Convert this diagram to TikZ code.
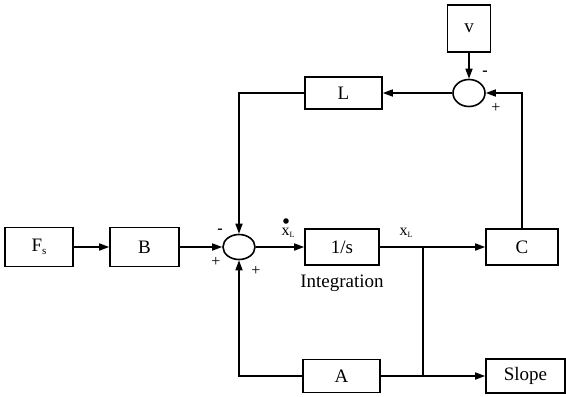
\documentclass[tikz,border=0pt]{standalone}
\usepackage{fontspec}
\setmainfont{Liberation Serif}
\usetikzlibrary{arrows.meta,shapes.geometric}
\begin{document}
\begin{tikzpicture}[x=1pt,y=-1pt, line width=1.6pt,
  >={Triangle[length=10pt,width=7pt]},
  blk/.style={draw, rectangle, inner sep=0pt, font=\fontsize{19}{22}\selectfont},
  sumj/.style={draw, ellipse, inner sep=0pt, minimum width=32pt, minimum height=25pt},
  sgn/.style={inner sep=0pt, font=\fontsize{16}{18}\selectfont},
  lbl/.style={inner sep=0pt, font=\fontsize{16}{18}\selectfont}]
\useasboundingbox (0,0) rectangle (566,397);
% blocks
\node[blk, minimum width=68pt, minimum height=39pt] (fs) at (39,247) {F\raisebox{-0.35ex}{\fontsize{11}{12}\selectfont s}};
\node[blk, minimum width=69pt, minimum height=39pt] (b) at (144.5,247) {B};
\node[sumj] (s1) at (239,247) {};
\node[blk, minimum width=74pt, minimum height=36pt] (int) at (342,247) {1/s};
\node[blk, minimum width=72pt, minimum height=36pt] (c) at (522,247) {C};
\node[blk, minimum width=43pt, minimum height=47pt] (v) at (469,28.5) {v};
\node[sumj, minimum height=27pt] (s2) at (469,93) {};
\node[blk, minimum width=77pt, minimum height=32pt] (l) at (343.5,93) {L};
\node[blk, minimum width=77pt, minimum height=33pt] (a) at (341.5,376) {A};
\node[blk, minimum width=79pt, minimum height=34pt] (slope) at (525.5,376) {Slope};
\coordinate (j1) at (423,247);
\coordinate (j2) at (423,376);
% connectors
\draw[->] (fs) -- (b);
\draw[->] (b) -- (s1);
\draw[->] (s1) -- (int);
\draw (int) -- (j1);
\draw[->] (j1) -- (c);
\draw[->] (c.north) |- (s2.east);
\draw[->] (v) -- (s2);
\draw[->] (s2) -- (l);
\draw[->] (l.west) -| (s1.north);
\draw (j1) -- (j2);
\draw[->] (j2) -- (slope);
\draw (j2) -- (a);
\draw[->] (a.west) -| (s1.south);
% signs
\node[sgn] (m1) at (220,231) {\textbf{-}};
\node[sgn] (p1) at (216,262) {+};
\node[sgn] (p2) at (256,271) {+};
\node[sgn] (m2) at (485,73) {\textbf{-}};
\node[sgn] (p3) at (496,108) {+};
% labels
\node[lbl] (xd) at (288,233) {x\raisebox{-0.3ex}{\fontsize{8}{9}\selectfont L}};
\fill (286,221) circle (2.8pt);
\node[lbl] (xl) at (406,233) {x\raisebox{-0.3ex}{\fontsize{8}{9}\selectfont L}};
\node[blk, draw=none] (integ) at (342,283) {Integration};
\end{tikzpicture}
\end{document}
